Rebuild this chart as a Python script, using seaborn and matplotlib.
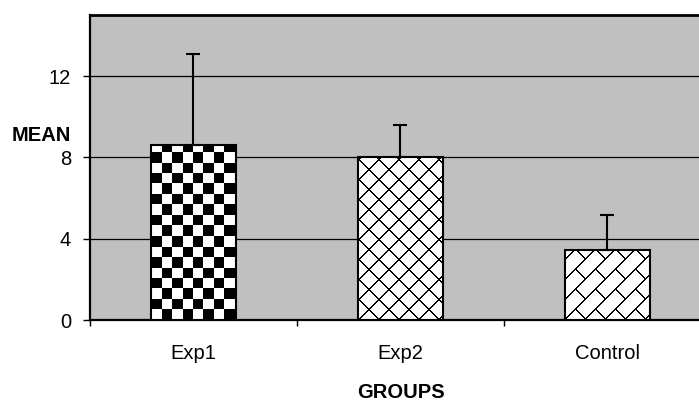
import numpy as np
import pandas as pd
import matplotlib
matplotlib.use("Agg")
import matplotlib.pyplot as plt
import seaborn as sns

# ---- data ----
groups = ["Exp1", "Exp2", "Control"]
means = [8.62, 8.01, 3.44]
err_upper = [4.48, 1.57, 1.71]
y_ticks = [0, 4, 8, 12]
patterns = ["checker", "diamond", "brick"]

plt.rcParams["font.family"] = ["Liberation Sans", "DejaVu Sans"]

W, H = 699, 403
fig = plt.figure(figsize=(W / 100, H / 100), dpi=100)
left, right, top, bottom = 90, 711, 15, 320
ax = fig.add_axes([left / W, (H - bottom) / H, (right - left) / W, (bottom - top) / H])
ax.set_facecolor("#C0C0C0")

df = pd.DataFrame({"group": groups, "mean": means})
sns.barplot(data=df, x="group", y="mean", order=groups, width=0.41,
            color="white", edgecolor="black", linewidth=1.5, errorbar=None,
            saturation=1, ax=ax, zorder=3)

ax.errorbar(x=np.arange(len(groups)), y=means,
            yerr=[np.zeros(len(groups)), err_upper], fmt="none",
            ecolor="black", elinewidth=1.5, capsize=4.7, capthick=1.5, zorder=5)

ax.set_ylim(0, 15)
ax.set_xlim(-0.5, 2.5)
ax.set_yticks(y_ticks)
ax.set_yticklabels([str(t) for t in y_ticks], fontsize=14.5)
ax.yaxis.grid(True, color="black", linewidth=0.9)
ax.set_axisbelow(True)

ax.set_xticks(range(len(groups)))
ax.set_xticklabels(groups, fontsize=14.5)
ax.set_xticks([-0.5, 0.5, 1.5, 2.5], minor=True)
ax.tick_params(axis="x", which="major", length=0, pad=17)
ax.tick_params(axis="x", which="minor", length=4.5, width=1, color="black")
ax.tick_params(axis="y", length=5, width=1, pad=8.5, color="black")

for s in ["left", "bottom"]:
    ax.spines[s].set_linewidth(1.6)
    ax.spines[s].set_color("black")
ax.spines["top"].set_linewidth(2)
ax.spines["top"].set_color("black")
ax.spines["right"].set_visible(False)

ax.set_xlabel("GROUPS", fontsize=14.5, fontweight="bold")
ax.xaxis.set_label_coords(0.5, -0.239)
ax.xaxis.label.set_va("center")
ax.set_ylabel("MEAN", fontsize=14.5, fontweight="bold", rotation=0)
ax.yaxis.set_label_coords(-0.031, 0.605)
ax.yaxis.label.set_ha("right")
ax.yaxis.label.set_va("center")

# ---- texture fills clipped to bars ----
fig.canvas.draw()
bars = [p for p in ax.patches]
for patch, kind in zip(bars, patterns):
    bb = patch.get_window_extent()
    w = max(int(round(bb.width)), 1)
    h = max(int(round(bb.height)), 1)
    yy, xx = np.mgrid[0:h, 0:w].astype(float)
    yb = h - 1 - yy
    if kind == "checker":
        s = 10.4
        black = ((np.floor(xx / s) + np.floor(yb / s)) % 2) == 1
    elif kind == "diamond":
        P, lw = 20.0, 1.6
        black = (((xx + yb) % P) < lw) | (((xx - yb) % P) < lw)
    else:
        P, Q, lw = 20.0, 40.0, 1.6
        v = yb - xx
        k = np.floor(v / P)
        s = xx + yb
        black = ((v % P) < lw) | (((s + k * Q / 2) % Q) < lw)
    arr = np.where(black, 0.0, 1.0)
    x0 = patch.get_x(); x1 = x0 + patch.get_width()
    y0 = patch.get_y(); y1 = y0 + patch.get_height()
    im = ax.imshow(arr, extent=(x0, x1, y0, y1), cmap="gray", vmin=0, vmax=1,
                   interpolation="nearest", aspect="auto", zorder=3)
    im.set_clip_path(patch)
    patch.set_facecolor("none")
    patch.set_zorder(4)

ax.set_xlim(-0.5, 2.5)
ax.set_ylim(0, 15)

fig.savefig("out.png", dpi=100)
